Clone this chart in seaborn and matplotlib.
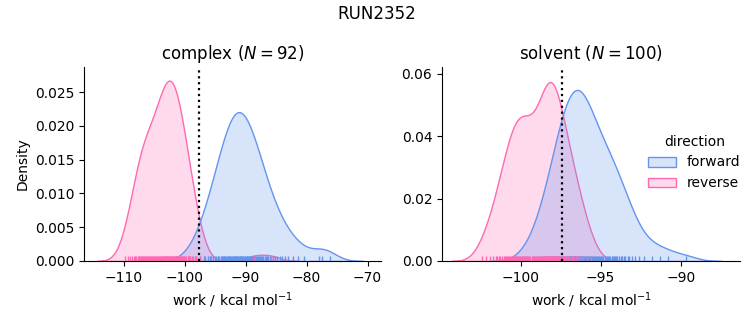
import numpy as np
import pandas as pd
import matplotlib
matplotlib.use("Agg")
import matplotlib.pyplot as plt
import seaborn as sns

title = "RUN2352"
phases = ["complex", "solvent"]
directions = ["forward", "reverse"]
colors = {"forward": "cornflowerblue", "reverse": "hotpink"}
dg_estimates = {"complex": -97.7, "solvent": -97.4}

complex_forward = [
    -99.3, -98.1, -97.4, -96.9,
    -96.6, -96.2, -95.8,
    -95.9, -95.6, -95.3, -95.1, -94.8,
    -94.6, -94.45, -94.3, -94.1, -93.95, -93.8, -93.7,
    -93.6, -93.5, -93.35, -93.2, -93.05, -92.9, -92.8, -92.7,
    -92.6, -92.5, -92.35, -92.2, -92.05, -91.95, -91.85, -91.75, -91.7,
    -91.6, -91.5, -91.4, -91.3, -91.2, -91.1, -91.0, -90.9, -90.8, -90.7,
    -90.6, -90.5, -90.4, -90.25, -90.1, -89.95, -89.85, -89.75, -89.7,
    -89.6, -89.45, -89.3, -89.15, -89.0, -88.9, -88.8, -88.7,
    -88.55, -88.4, -88.25, -88.1, -87.95, -87.8, -87.7,
    -87.5, -87.3, -87.1, -86.9, -86.7,
    -86.5, -86.3, -86.0, -85.8,
    -85.5, -85.1, -84.8,
    -84.4, -84.0, -83.5, -83.0,
    -82.3, -81.4, -80.4,
    -77.9, -77.4, -76.2,
]
complex_reverse = [
    -109.8, -109.3,
    -108.9, -108.6, -108.3, -108.1,
    -107.9, -107.7, -107.6, -107.4, -107.3, -107.2, -107.05,
    -106.95, -106.8, -106.7, -106.55, -106.4, -106.3, -106.2, -106.05,
    -105.9, -105.75, -105.6, -105.45, -105.3, -105.2, -105.05,
    -104.9, -104.8, -104.65, -104.5, -104.4, -104.3, -104.15, -104.05,
    -103.95, -103.85, -103.75, -103.65, -103.55, -103.45, -103.35, -103.3, -103.2, -103.1, -103.02,
    -102.95, -102.85, -102.75, -102.65, -102.55, -102.48, -102.4, -102.32, -102.25, -102.17, -102.08, -102.02,
    -101.93, -101.85, -101.75, -101.66, -101.57, -101.48, -101.38, -101.3, -101.2, -101.12, -101.04,
    -100.95, -100.85, -100.72, -100.6, -100.5, -100.4, -100.28, -100.15, -100.05,
    -99.9, -99.7, -99.5, -99.3, -99.15, -99.05,
    -98.8, -98.55, -98.3, -98.1, -97.5,
    -88.6, -85.9,
]
solvent_forward = [
    -99.7, -99.2, -98.9, -98.75, -98.6,
    -98.45, -98.35, -98.25, -98.15, -98.05,
    -97.96, -97.9, -97.84, -97.78, -97.72, -97.66, -97.6, -97.54,
    -97.47, -97.42, -97.37, -97.32, -97.27, -97.22, -97.17, -97.12, -97.07, -97.02,
    -96.98, -96.94, -96.9, -96.86, -96.82, -96.78, -96.73, -96.69, -96.65, -96.61, -96.57, -96.53,
    -96.48, -96.44, -96.4, -96.36, -96.32, -96.28, -96.23, -96.19, -96.15, -96.11, -96.07, -96.03,
    -95.97, -95.92, -95.87, -95.82, -95.77, -95.72, -95.67, -95.62, -95.57, -95.52,
    -95.47, -95.41, -95.35, -95.29, -95.23, -95.17, -95.11, -95.05,
    -94.96, -94.89, -94.82, -94.75, -94.68, -94.61, -94.54,
    -94.46, -94.39, -94.32, -94.25, -94.18, -94.11, -94.04,
    -93.95, -93.85, -93.75, -93.65, -93.55,
    -93.45, -93.32, -93.2, -93.07,
    -92.85, -92.6, -92.3, -91.8, -91.3, -90.8, -89.7,
]
solvent_reverse = [
    -102.4, -102.15,
    -101.9, -101.7, -101.55,
    -101.45, -101.35, -101.25, -101.15, -101.05,
    -100.97, -100.9, -100.84, -100.78, -100.72, -100.65, -100.58, -100.52,
    -100.47, -100.42, -100.37, -100.32, -100.27, -100.22, -100.17, -100.12, -100.07, -100.02,
    -99.97, -99.92, -99.87, -99.82, -99.77, -99.72, -99.67, -99.62, -99.57, -99.52,
    -99.45, -99.38, -99.31, -99.24, -99.17, -99.1, -99.03,
    -98.96, -98.9, -98.84, -98.78, -98.72, -98.66, -98.6, -98.55, -98.51,
    -98.47, -98.44, -98.4, -98.37, -98.33, -98.3, -98.26, -98.23, -98.19, -98.16, -98.12, -98.09, -98.05, -98.02,
    -97.98, -97.94, -97.9, -97.86, -97.82, -97.78, -97.74, -97.7, -97.66, -97.62, -97.58, -97.53,
    -97.46, -97.4, -97.33, -97.27, -97.2, -97.14, -97.08, -97.02,
    -96.95, -96.87, -96.79, -96.71, -96.63, -96.55,
    -96.45, -96.33, -96.2, -96.08,
    -95.85, -95.6,
]

series = {
    ("complex", "forward"): complex_forward,
    ("complex", "reverse"): complex_reverse,
    ("solvent", "forward"): solvent_forward,
    ("solvent", "reverse"): solvent_reverse,
}
rows = []
for (ph, d), vals in series.items():
    for v in vals:
        rows.append({"phase": ph, "direction": d, "work": v})
df = pd.DataFrame(rows)

plt.rcParams["font.family"] = ["DejaVu Sans"]

g = sns.displot(
    data=df, x="work", hue="direction", col="phase", kind="kde",
    col_order=phases, hue_order=directions, palette=colors,
    fill=True, rug=True, common_norm=True,
    facet_kws=dict(sharex=False, sharey=False),
)
fig = g.figure
fig.set_size_inches(7.53, 3.25)
fig.set_dpi(100)

counts = {"complex": len(complex_forward), "solvent": len(solvent_forward)}
xlims = {"complex": (-116.5, -67.8), "solvent": (-104.9, -86.3)}
ylims = {"complex": (0, 0.0287), "solvent": (0, 0.0622)}
for ax, ph in zip(g.axes.flat, phases):
    ax.axvline(dg_estimates[ph], color="black", ls=":", lw=1.6)
    ax.set_title(f"{ph} ($N={counts[ph]}$)", fontsize=12)
    ax.set_xlabel("work / kcal mol$^{-1}$")
    ax.set_xlim(*xlims[ph])
    ax.set_ylim(*ylims[ph])
g.axes.flat[0].set_ylabel("Density")
g.axes.flat[1].set_ylabel("")

g.axes.flat[0].set_position([84/753, 1-261/325, (381-84)/753, (261-67)/325])
g.axes.flat[1].set_position([442/753, 1-261/325, (740-442)/753, (261-67)/325])

sns.move_legend(g, "center", bbox_to_anchor=(0.922, 0.5), frameon=False)
fig.suptitle(title, fontsize=12, y=0.985)

fig.savefig("out.png", dpi=100)
